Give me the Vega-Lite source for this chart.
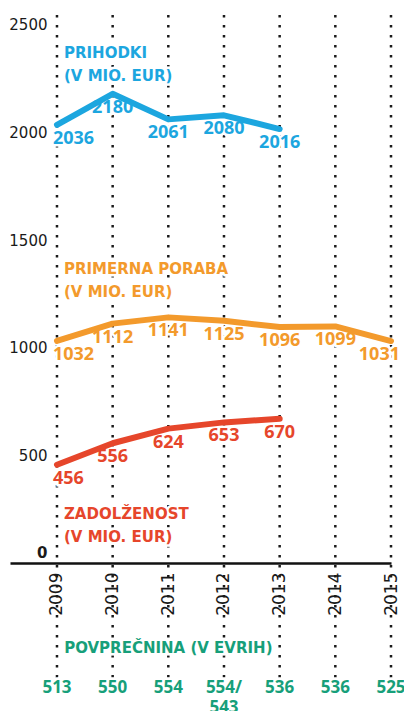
{
  "$schema": "https://vega.github.io/schema/vega-lite/v6.json",
  "width": 381,
  "height": 665,
  "autosize": "none",
  "padding": {"left": 10, "top": 15, "right": 13, "bottom": 31},
  "background": "white",
  "config": {"view": {"stroke": null}},
  "datasets": {
    "main": [
      {"year": 2009, "series": "Prihodki", "value": 2036},
      {"year": 2010, "series": "Prihodki", "value": 2180},
      {"year": 2011, "series": "Prihodki", "value": 2061},
      {"year": 2012, "series": "Prihodki", "value": 2080},
      {"year": 2013, "series": "Prihodki", "value": 2016},
      {"year": 2009, "series": "Primerna poraba", "value": 1032},
      {"year": 2010, "series": "Primerna poraba", "value": 1112},
      {"year": 2011, "series": "Primerna poraba", "value": 1141},
      {"year": 2012, "series": "Primerna poraba", "value": 1125},
      {"year": 2013, "series": "Primerna poraba", "value": 1096},
      {"year": 2014, "series": "Primerna poraba", "value": 1099},
      {"year": 2015, "series": "Primerna poraba", "value": 1031},
      {"year": 2009, "series": "Zadolženost", "value": 456},
      {"year": 2010, "series": "Zadolženost", "value": 556},
      {"year": 2011, "series": "Zadolženost", "value": 624},
      {"year": 2012, "series": "Zadolženost", "value": 653},
      {"year": 2013, "series": "Zadolženost", "value": 670}
    ],
    "avg": [
      {"year": 2009, "avg": "513"},
      {"year": 2010, "avg": "550"},
      {"year": 2011, "avg": "554"},
      {"year": 2012, "avg": "554/\n543"},
      {"year": 2013, "avg": "536"},
      {"year": 2014, "avg": "536"},
      {"year": 2015, "avg": "525"}
    ]
  },
  "layer": [
    {
      "data": {"name": "avg"},
      "mark": {"type": "rule", "strokeDash": [2.5, 7.5], "strokeWidth": 2.5, "color": "#1a1a1a"},
      "encoding": {
        "x": {
          "field": "year", "type": "quantitative",
          "scale": {"domain": [2008.156, 2015], "nice": false, "zero": false},
          "axis": {
            "values": [2009, 2010, 2011, 2012, 2013, 2014, 2015],
            "format": "d", "labelAngle": -90, "labelFont": "DejaVu Sans", "labelFontSize": 17,
            "labelColor": "#1a1a1a", "ticks": false, "grid": false, "domainColor": "#111111",
            "domainWidth": 2.5, "labelPadding": 9, "offset": -117, "title": null
          }
        }
      }
    },
    {
      "data": {"name": "main"},
      "mark": {"type": "line", "strokeWidth": 6, "strokeJoin": "round", "strokeCap": "round"},
      "encoding": {
        "x": {"field": "year", "type": "quantitative", "scale": {"domain": [2008.156, 2015], "nice": false, "zero": false}},
        "y": {
          "field": "value", "type": "quantitative",
          "scale": {"domain": [-544, 2546], "nice": false, "zero": false},
          "axis": {
            "values": [0, 500, 1000, 1500, 2000, 2500], "format": "d", "orient": "left", "offset": -47,
            "domain": false, "ticks": false, "grid": false, "labelPadding": 10,
            "labelFont": "DejaVu Sans", "labelFontSize": 15, "labelColor": "#1a1a1a",
            "labelFontWeight": {"condition": {"test": "datum.value == 0", "value": "bold"}, "value": "normal"},
            "labelOffset": {"condition": {"test": "datum.value == 0", "value": -10}, "value": 0},
            "title": null
          }
        },
        "color": {
          "field": "series", "type": "nominal",
          "scale": {"domain": ["Prihodki", "Primerna poraba", "Zadolženost"], "range": ["#1ca6df", "#f39a2c", "#e6462b"]},
          "legend": null
        },
        "opacity": {"value": 0}
      }
    },
    {
      "data": {"name": "main"},
      "mark": {"type": "text", "font": "Open Sans", "fontWeight": "bold", "fontSize": 18, "baseline": "middle", "dy": 14,
        "fill": "white", "stroke": "white", "strokeWidth": 5,
        "align": {"expr": "datum.year == 2009 ? 'left' : datum.year == 2015 ? 'right' : 'center'"},
        "dx": {"expr": "datum.year == 2009 ? -4 : datum.year == 2015 ? 9 : 0"}},
      "encoding": {
        "x": {"field": "year", "type": "quantitative"},
        "y": {"field": "value", "type": "quantitative"},
        "text": {"field": "value", "type": "quantitative", "format": "d"}
      }
    },
    {
      "data": {"name": "main"},
      "transform": [{"filter": "datum.year == 2009"}],
      "mark": {"type": "text", "font": "DejaVu Sans", "fontWeight": "bold", "fontSize": 15, "baseline": "top", "align": "left",
        "lineHeight": 23, "dx": 7, "fill": "white", "stroke": "white", "strokeWidth": 5,
        "dy": {"expr": "datum.series == 'Zadolženost' ? 42 : -79"}},
      "encoding": {
        "x": {"field": "year", "type": "quantitative"},
        "y": {"field": "value", "type": "quantitative"},
        "text": {
          "condition": [
            {"test": "datum.series == 'Prihodki'", "value": ["PRIHODKI", "(V MIO. EUR)"]},
            {"test": "datum.series == 'Primerna poraba'", "value": ["PRIMERNA PORABA", "(V MIO. EUR)"]}
          ],
          "value": ["ZADOLŽENOST", "(V MIO. EUR)"]
        }
      }
    },
    {
      "data": {"name": "avg"},
      "transform": [{"filter": "datum.year == 2011"}],
      "mark": {"type": "text", "font": "DejaVu Sans", "fontWeight": "bold", "fontSize": 15, "baseline": "top", "align": "center",
        "fill": "white", "stroke": "white", "strokeWidth": 5, "text": "POVPREČNINA (V EVRIH)"},
      "encoding": {
        "x": {"field": "year", "type": "quantitative"},
        "y": {"datum": -365, "type": "quantitative"}
      }
    },
    {
      "data": {"name": "avg"},
      "mark": {"type": "text", "font": "Open Sans", "fontWeight": "bold", "fontSize": 17, "baseline": "top", "align": "center",
        "lineBreak": "\n", "lineHeight": 20, "fill": "white", "stroke": "white", "strokeWidth": 5},
      "encoding": {
        "x": {"field": "year", "type": "quantitative"},
        "y": {"datum": -542, "type": "quantitative"},
        "text": {"field": "avg", "type": "nominal"}
      }
    },
    {
      "data": {"name": "main"},
      "mark": {"type": "line", "strokeWidth": 6, "strokeJoin": "round", "strokeCap": "round"},
      "encoding": {
        "x": {"field": "year", "type": "quantitative"},
        "y": {"field": "value", "type": "quantitative"},
        "color": {"field": "series", "type": "nominal", "legend": null}
      }
    },
    {
      "data": {"name": "main"},
      "mark": {"type": "text", "font": "Open Sans", "fontWeight": "bold", "fontSize": 18, "baseline": "middle", "dy": 14,
        "align": {"expr": "datum.year == 2009 ? 'left' : datum.year == 2015 ? 'right' : 'center'"},
        "dx": {"expr": "datum.year == 2009 ? -4 : datum.year == 2015 ? 9 : 0"}},
      "encoding": {
        "x": {"field": "year", "type": "quantitative"},
        "y": {"field": "value", "type": "quantitative"},
        "text": {"field": "value", "type": "quantitative", "format": "d"},
        "color": {"field": "series", "type": "nominal", "legend": null}
      }
    },
    {
      "data": {"name": "main"},
      "transform": [{"filter": "datum.year == 2009"}],
      "mark": {"type": "text", "font": "DejaVu Sans", "fontWeight": "bold", "fontSize": 15, "baseline": "top", "align": "left",
        "lineHeight": 23, "dx": 7,
        "dy": {"expr": "datum.series == 'Zadolženost' ? 42 : -79"}},
      "encoding": {
        "x": {"field": "year", "type": "quantitative"},
        "y": {"field": "value", "type": "quantitative"},
        "color": {"field": "series", "type": "nominal", "legend": null},
        "text": {
          "condition": [
            {"test": "datum.series == 'Prihodki'", "value": ["PRIHODKI", "(V MIO. EUR)"]},
            {"test": "datum.series == 'Primerna poraba'", "value": ["PRIMERNA PORABA", "(V MIO. EUR)"]}
          ],
          "value": ["ZADOLŽENOST", "(V MIO. EUR)"]
        }
      }
    },
    {
      "data": {"name": "avg"},
      "transform": [{"filter": "datum.year == 2011"}],
      "mark": {"type": "text", "font": "DejaVu Sans", "fontWeight": "bold", "fontSize": 15, "baseline": "top", "align": "center",
        "color": "#179f7a", "text": "POVPREČNINA (V EVRIH)"},
      "encoding": {
        "x": {"field": "year", "type": "quantitative"},
        "y": {"datum": -365, "type": "quantitative"}
      }
    },
    {
      "data": {"name": "avg"},
      "mark": {"type": "text", "font": "Open Sans", "fontWeight": "bold", "fontSize": 17, "baseline": "top", "align": "center",
        "lineBreak": "\n", "lineHeight": 20, "color": "#179f7a"},
      "encoding": {
        "x": {"field": "year", "type": "quantitative"},
        "y": {"datum": -542, "type": "quantitative"},
        "text": {"field": "avg", "type": "nominal"}
      }
    }
  ]
}
